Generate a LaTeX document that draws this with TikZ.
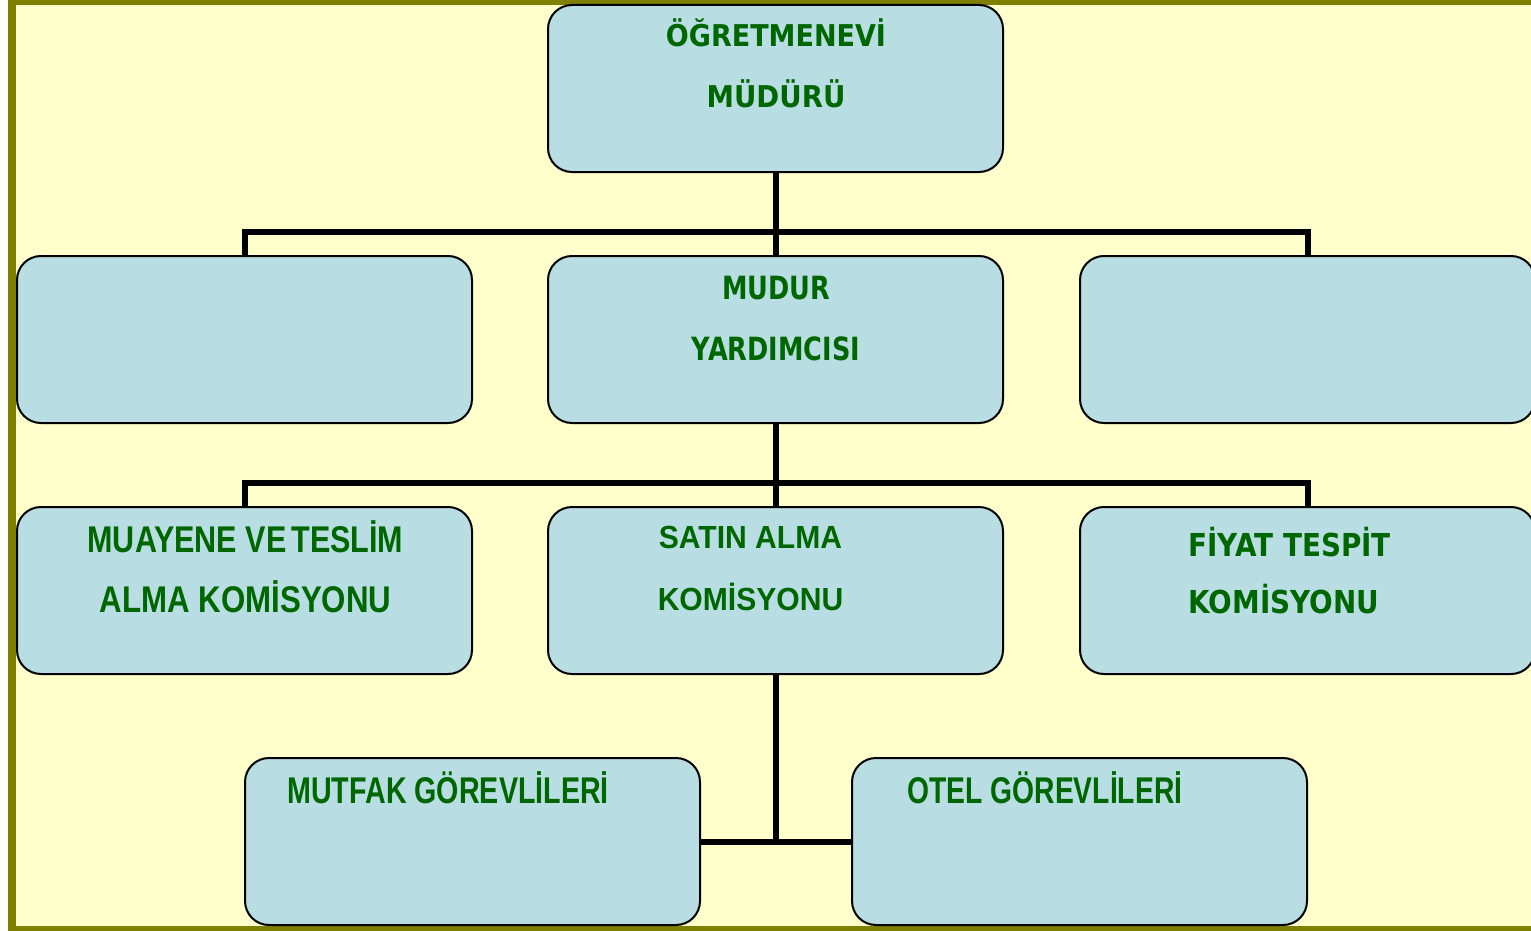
\documentclass[tikz,border=0pt]{standalone}
\usepackage{fontspec}
\setmainfont{DejaVu Sans}
\newfontfamily\arialfont{Liberation Sans}
\definecolor{paper}{HTML}{FFFFCC}
\definecolor{olivebar}{HTML}{808000}
\definecolor{boxfill}{HTML}{B8DEE3}
\definecolor{textgreen}{HTML}{006600}
\newcommand{\squeeze}[2]{\scalebox{#1}[1]{#2}}

\begin{document}
\begin{tikzpicture}[x=0.5pt,y=-0.5pt,
  box/.style={draw=black, line width=1pt, fill=boxfill, rounded corners=12pt,
    minimum width=227.5pt, minimum height=83.5pt, inner sep=0pt},
  link/.style={line width=3pt},
  lbltah/.style={text=textgreen, font=\fontsize{#1}{#1}\selectfont\bfseries,
    inner sep=0pt, anchor=base},
  lblari/.style={text=textgreen, font=\fontsize{#1}{#1}\selectfont\arialfont\bfseries,
    inner sep=0pt, anchor=base}]
\useasboundingbox (0,0) rectangle (1531,931);
% page frame
\fill[white] (0,0) rectangle (1531,931);
\fill[paper] (8,0) rectangle (1531,931);
\fill[olivebar] (8,0) rectangle (15.5,931);
\fill[olivebar] (8,0) rectangle (1531,4.7);
\fill[olivebar] (8,926) rectangle (1531,931);
\clip (0,0) rectangle (1531,931);

% boxes
\node[box] (mudur) at (775.5,88.5) {};
\node[box] (yrdleft) at (244.5,339.5) {};
\node[box] (yrd) at (775.5,339.5) {};
\node[box] (yrdright) at (1307.5,339.5) {};
\node[box] (muayene) at (244.5,590.5) {};
\node[box] (satin) at (775.5,590.5) {};
\node[box] (fiyat) at (1307.5,590.5) {};
\node[box] (mutfak) at (472.5,841.5) {};
\node[box] (otel) at (1079.5,841.5) {};

% connectors
\draw[link] (mudur.south) -- (yrd.north);
\draw[link] (yrdleft.north) -- ++(0,-23) -| (yrdright.north);
\draw[link] (yrd.south) -- (satin.north);
\draw[link] (muayene.north) -- ++(0,-23) -| (fiyat.north);
\draw[link] (satin.south) -- (satin.south |- mutfak.east);
\draw[link] (mutfak.east) -- (otel.west);

% labels
\node[lbltah=15] (mudur1) at (776,47) {\squeeze{0.9}{ÖĞRETMENEVİ}};
\node[lbltah=15] (mudur2) at (776,108) {\squeeze{0.92}{MÜDÜRÜ}};
\node[lbltah=16] (yrd1) at (776,299) {\squeeze{0.8}{MUDUR}};
\node[lbltah=16] (yrd2) at (776,360) {\squeeze{0.8}{YARDIMCISI}};
\node[lblari=18.6] (muayene1) at (245.5,552) {\squeeze{0.82}{MUAYENE VE\,TESLİM}};
\node[lblari=18.6] (muayene2) at (245.5,612) {\squeeze{0.84}{ALMA KOMİSYONU}};
\node[lblari=16] (satin1) at (750.5,548) {\squeeze{0.94}{SATIN ALMA}};
\node[lblari=16] (satin2) at (750.5,610) {\squeeze{0.94}{KOMİSYONU}};
\node[lbltah=15.8, anchor=base west] (fiyat1) at (1188,556) {\squeeze{0.88}{FİYAT TESPİT}};
\node[lbltah=15.8, anchor=base west] (fiyat2) at (1188,613) {\squeeze{0.88}{KOMİSYONU}};
\node[lblari=18.6, anchor=base west] (mutfak1) at (287,803) {\squeeze{0.77}{MUTFAK GÖREVLİLERİ}};
\node[lblari=18.6, anchor=base west] (otel1) at (907,803) {\squeeze{0.76}{OTEL GÖREVLİLERİ}};
\end{tikzpicture}
\end{document}
